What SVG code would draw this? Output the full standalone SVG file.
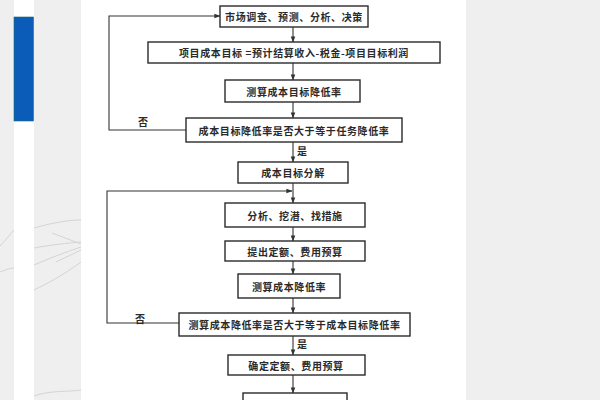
<svg xmlns="http://www.w3.org/2000/svg" width="600" height="400" viewBox="0 0 600 400">
<style>
.box{fill:#fff;stroke:#2a2a2a;stroke-width:1.4}
.t{font-family:"Noto Sans CJK SC","Noto Sans CJK JP",sans-serif;font-size:10px;font-weight:bold;fill:#2a2a2a;text-anchor:middle;dominant-baseline:central;letter-spacing:0.6px}
.lbl{font-family:"Noto Sans CJK SC",sans-serif;font-size:10px;font-weight:bold;fill:#2a2a2a;text-anchor:middle;dominant-baseline:central}
.c{fill:none;stroke:#333;stroke-width:1.1}
.deco{fill:none;stroke:#d4d4d4;stroke-width:1}
</style>
<defs>
<marker id="ah" viewBox="0 0 8 8" refX="7.5" refY="4" markerWidth="6" markerHeight="6" orient="auto" markerUnits="userSpaceOnUse">
<path d="M0,1 L8,4 L0,7 z" fill="#333"/>
</marker>
</defs>
<g id="background">
<rect x="0" y="0" width="600" height="400" fill="#fff"/>
<rect x="0" y="0" width="14" height="400" fill="#efefef"/>
<rect x="34" y="0" width="47" height="400" fill="#efefef"/>
<rect x="466" y="0" width="134" height="400" fill="#efefef"/>
<rect x="14" y="17" width="19.5" height="104" fill="#0b5cb8" stroke="#14706a" stroke-width="0.6"/>
<path class="deco" d="M34,228 C55,222 70,220 81,220 M34,248 C50,245 68,243 81,242 M34,265 C50,258 66,252 81,247 M52,233 L81,244 M56,262 L81,250 M0,246 C6,240 10,234 14,230 M0,272 C5,270 10,268 14,268 M34,290 C55,280 70,270 81,262 M34,396 C50,390 70,392 81,390"/>
</g>
<g id="connectors">
<line class="c" x1="293" y1="27" x2="293" y2="42" marker-end="url(#ah)"/>
<line class="c" x1="293" y1="63" x2="293" y2="80" marker-end="url(#ah)"/>
<line class="c" x1="293" y1="102" x2="293" y2="118" marker-end="url(#ah)"/>
<line class="c" x1="293" y1="142" x2="293" y2="162" marker-end="url(#ah)"/>
<line class="c" x1="293" y1="183" x2="293" y2="203" marker-end="url(#ah)"/>
<line class="c" x1="293" y1="227" x2="293" y2="241" marker-end="url(#ah)"/>
<line class="c" x1="293" y1="261" x2="293" y2="274" marker-end="url(#ah)"/>
<line class="c" x1="293" y1="298" x2="293" y2="313" marker-end="url(#ah)"/>
<line class="c" x1="293" y1="336" x2="293" y2="355" marker-end="url(#ah)"/>
<line class="c" x1="293" y1="375" x2="293" y2="393" marker-end="url(#ah)"/>
<polyline class="c" points="186,130 109,130 109,16 220,16" marker-end="url(#ah)"/>
<polyline class="c" points="179,323 107,323 107,191 292,191" marker-end="url(#ah)"/>
<text class="lbl" x="143" y="121">否</text>
<text class="lbl" x="302" y="150">是</text>
<text class="lbl" x="140" y="318">否</text>
<text class="lbl" x="302" y="343">是</text>
</g>
<g id="n1"><rect class="box" x="220" y="6" width="148" height="21"/><text class="t" x="294" y="16.5">市场调查、预测、分析、决策</text></g>
<g id="n2"><rect class="box" x="148" y="42" width="292" height="21"/><text class="t" x="294" y="52.5">项目成本目标 =预计结算收入-税金-项目目标利润</text></g>
<g id="n3"><rect class="box" x="225" y="80" width="135" height="22"/><text class="t" x="294" y="91">测算成本目标降低率</text></g>
<g id="n4"><rect class="box" x="186" y="118" width="216" height="24"/><text class="t" x="294" y="130">成本目标降低率是否大于等于任务降低率</text></g>
<g id="n5"><rect class="box" x="238" y="162" width="110" height="21"/><text class="t" x="293" y="172.5">成本目标分解</text></g>
<g id="n6"><rect class="box" x="225" y="203" width="140" height="24"/><text class="t" x="295" y="215">分析、挖潜、找措施</text></g>
<g id="n7"><rect class="box" x="225" y="241" width="140" height="20"/><text class="t" x="295" y="251">提出定额、费用预算</text></g>
<g id="n8"><rect class="box" x="238" y="274" width="102" height="24"/><text class="t" x="289" y="286">测算成本降低率</text></g>
<g id="n9"><rect class="box" x="179" y="313" width="231" height="23"/><text class="t" x="294.5" y="324.5">测算成本降低率是否大于等于成本目标降低率</text></g>
<g id="n10"><rect class="box" x="228" y="355" width="137" height="20"/><text class="t" x="296" y="365">确定定额、费用预算</text></g>
<g id="n11"><rect class="box" x="243" y="393" width="104" height="20"/></g>
</svg>
